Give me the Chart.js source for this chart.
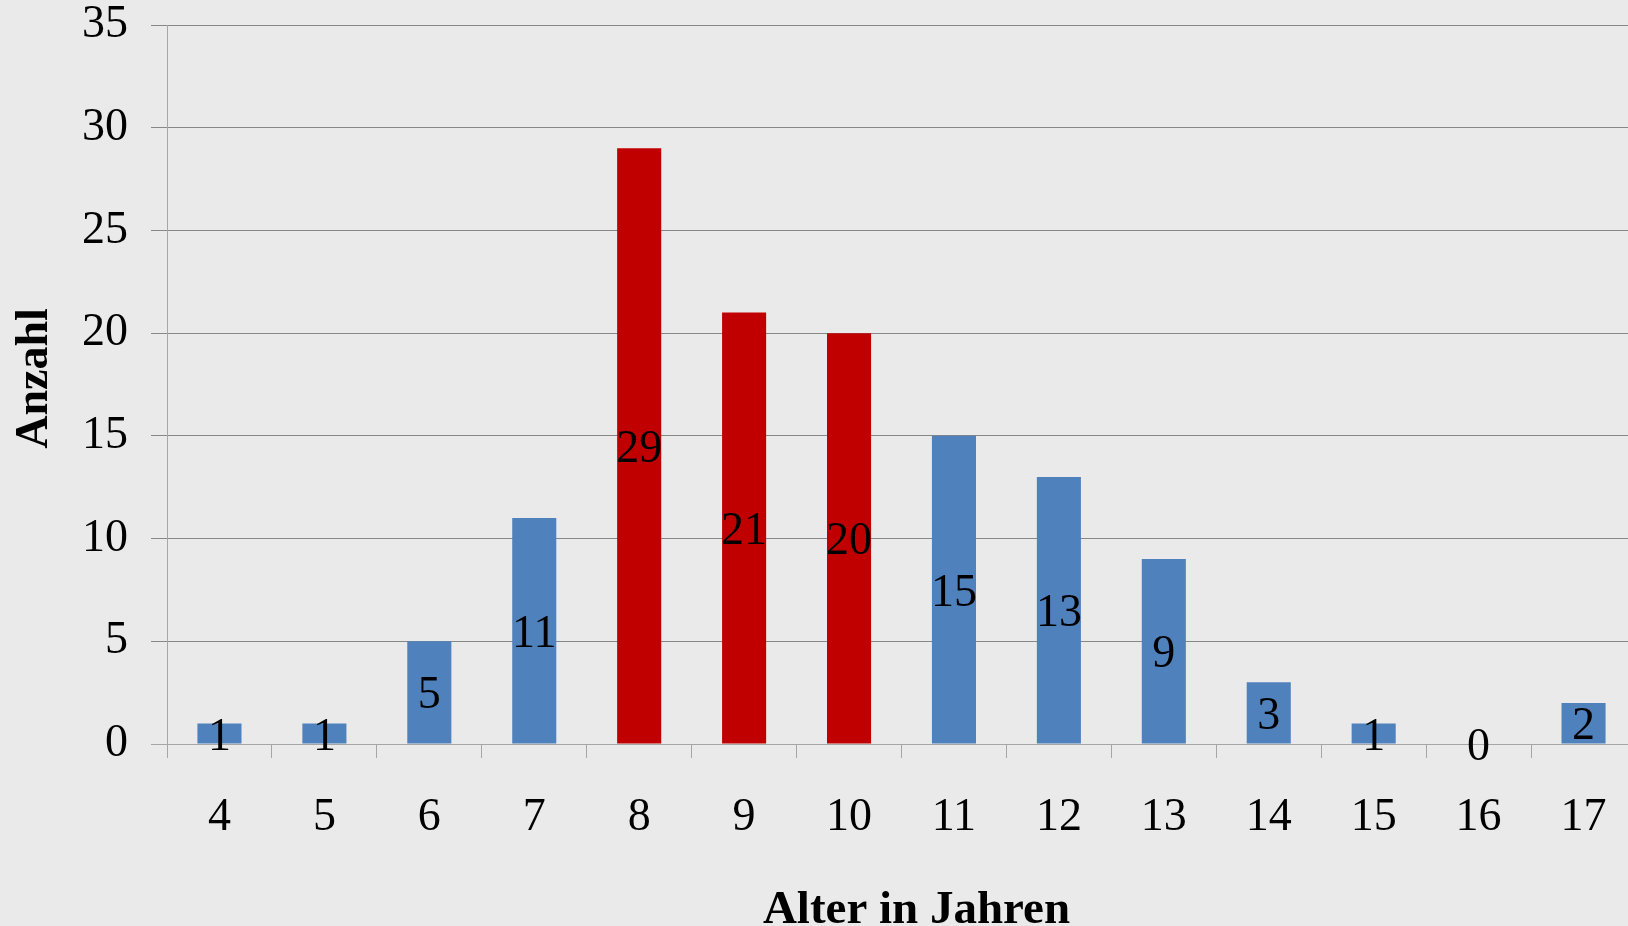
<!DOCTYPE html>
<html>
<head>
<meta charset="utf-8">
<script src="https://cdn.jsdelivr.net/npm/chart.js@4.4.1/dist/chart.umd.min.js"></script>
<style>
  html, body { margin: 0; padding: 0; background: #eaeaea; overflow: hidden; width: 1628px; height: 926px; }
  #wrap { width: 1636px; height: 926px; position: relative; }
</style>
</head>
<body>
<div id="wrap"><canvas id="c"></canvas></div>
<script>
// Age groups (years) and number of children per group
const ages = ['4', '5', '6', '7', '8', '9', '10', '11', '12', '13', '14', '15', '16', '17'];
const counts = [1, 1, 5, 11, 29, 21, 20, 15, 13, 9, 3, 1, 0, 2];
// Age groups drawn in red
const highlightedAges = ['8', '9', '10'];
// Value axis range and step
const yMin = 0;
const yMax = 35;
const yStep = 5;
const titleY = 'Anzahl';
const titleX = 'Alter in Jahren';

const BLUE = '#4f81bd';
const RED = '#c00000';
const SERIF = '"Liberation Serif", "Times New Roman", serif';

const barColors = ages.map(a => highlightedAges.includes(a) ? RED : BLUE);

const backgroundPlugin = {
  id: 'bg',
  beforeDraw(chart) {
    const { ctx, width, height } = chart;
    ctx.save();
    ctx.fillStyle = '#eaeaea';
    ctx.fillRect(0, 0, width, height);
    ctx.restore();
  }
};

// Value printed in the middle of each bar
const valueLabelPlugin = {
  id: 'valueLabels',
  afterDatasetsDraw(chart) {
    const { ctx } = chart;
    const meta = chart.getDatasetMeta(0);
    ctx.save();
    ctx.font = '46px ' + SERIF;
    ctx.fillStyle = '#000';
    ctx.textAlign = 'center';
    ctx.textBaseline = 'middle';
    meta.data.forEach((bar, i) => {
      const v = chart.data.datasets[0].data[i];
      const cy = (bar.y + bar.base) / 2 + 4;
      ctx.fillText(String(v), bar.x, cy);
    });
    ctx.restore();
  }
};

// Bold axis titles
const axisTitlePlugin = {
  id: 'axisTitles',
  afterDraw(chart) {
    const { ctx, chartArea } = chart;
    ctx.save();
    ctx.fillStyle = '#000';
    ctx.textAlign = 'center';
    ctx.textBaseline = 'middle';
    // vertical title
    ctx.font = 'bold 46px ' + SERIF;
    ctx.save();
    ctx.translate(35, (chartArea.top + chartArea.bottom) / 2 - 6);
    ctx.rotate(-Math.PI / 2);
    ctx.fillText(titleY, 0, 0);
    ctx.restore();
    // horizontal title
    ctx.font = 'bold 47px ' + SERIF;
    ctx.fillText(titleX, (chartArea.left + chartArea.right) / 2 + 15, chartArea.bottom + 167);
    ctx.restore();
  }
};

new Chart(document.getElementById('c'), {
  type: 'bar',
  data: {
    labels: ages,
    datasets: [{
      data: counts,
      backgroundColor: barColors,
      borderWidth: 0,
      barPercentage: 0.42,
      categoryPercentage: 1.0
    }]
  },
  options: {
    responsive: true,
    maintainAspectRatio: false,
    animation: false,
    devicePixelRatio: 1,
    layout: { padding: { top: 25, right: 0, bottom: 0, left: 0 } },
    plugins: {
      legend: { display: false },
      tooltip: { enabled: false },
      title: { display: false }
    },
    scales: {
      x: {
        type: 'category',
        offset: true,
        grid: {
          display: true,
          offset: true,
          drawOnChartArea: false,
          drawTicks: true,
          tickLength: 14,
          color: '#a6a6a6',
          lineWidth: 1
        },
        border: { display: true, color: '#a6a6a6', width: 1 },
        ticks: {
          font: { family: SERIF, size: 46, lineHeight: 1 },
          color: '#000',
          padding: 37,
          maxRotation: 0,
          autoSkip: false
        },
        afterFit(scale) {
          scale.height = 182;
          scale.paddingLeft = 0;
          scale.paddingRight = 0;
        }
      },
      y: {
        min: yMin,
        max: yMax,
        ticks: {
          stepSize: yStep,
          font: { family: SERIF, size: 46, lineHeight: 1 },
          color: '#000',
          padding: 23
        },
        grid: {
          color: ctx => (ctx.tick && ctx.tick.value === 0) ? '#a6a6a6' : '#878787',
          lineWidth: 1,
          tickLength: 16,
          drawTicks: true
        },
        border: { display: true, color: '#a6a6a6', width: 1 },
        afterFit(scale) {
          scale.width = 167;
          scale.paddingTop = 0;
          scale.paddingBottom = 0;
        }
      }
    }
  },
  plugins: [backgroundPlugin, valueLabelPlugin, axisTitlePlugin]
});
</script>
</body>
</html>
